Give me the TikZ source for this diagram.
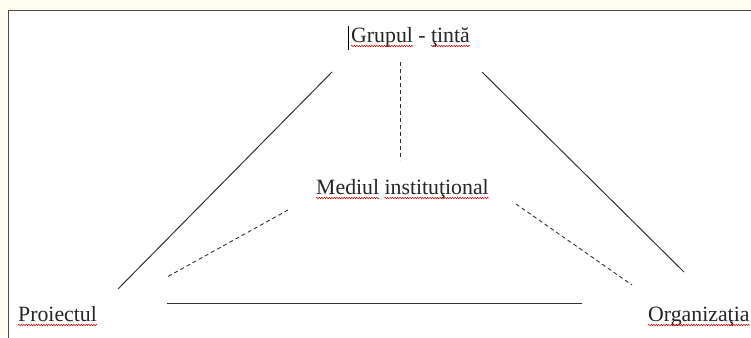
\documentclass[tikz,border=0pt]{standalone}
\usepackage{fontspec}
\setmainfont{Liberation Serif}
\usetikzlibrary{decorations.pathmorphing}
\begin{document}
\begin{tikzpicture}[x=1pt,y=-1pt,
  lbl/.style={inner sep=0pt,font=\fontsize{21.8}{24}\selectfont,text=black!85},
  solidline/.style={draw=black!80,line width=1pt},
  dashline/.style={draw=black!80,line width=0.9pt,dash pattern=on 4pt off 3pt},
  squig/.style={draw=red!80!black,line width=0.5pt,decorate,decoration={snake,amplitude=0.7pt,segment length=2.5pt}}]
\useasboundingbox (0,0) rectangle (751,337);
\fill[orange!8!yellow!6] (0,0) rectangle (751,337);
\filldraw[fill=white,draw=black!70,line width=0.9pt] (8,10) rectangle (760,345);
% labels (word by word)
\node[lbl,anchor=base west] (g1) at (351,42) {Grupul};
\node[lbl,anchor=base west] (g2) at ([xshift=5pt]g1.base east) {-};
\node[lbl,anchor=base west] (g3) at ([xshift=5pt]g2.base east) {ţintă};
\node[lbl,anchor=base west] (m1) at (316,194) {Mediul};
\node[lbl,anchor=base west] (m2) at ([xshift=5pt]m1.base east) {instituţional};
\node[lbl,anchor=base west] (p) at (18,321) {Proiectul};
\node[lbl,anchor=base west] (o) at (648,321) {Organizaţia};
\draw[black,line width=0.8pt] ([xshift=-3pt,yshift=1pt]g1.north west) -- ([xshift=-3pt,yshift=-3pt]g1.south west);
% coordinates
\coordinate (l1) at (332,72); \coordinate (l2) at (118,289);
\coordinate (r1) at (482,72); \coordinate (r2) at (684,272);
\coordinate (v1) at (400,62); \coordinate (v2) at (400,160);
\coordinate (dl1) at (288,210); \coordinate (dl2) at (167,277);
\coordinate (dr1) at (516,204); \coordinate (dr2) at (632,285);
\coordinate (b1) at (167,303); \coordinate (b2) at (582,303);
\draw[solidline] (l1) -- (l2);
\draw[solidline] (r1) -- (r2);
\draw[solidline] (b1) -- (b2);
\draw[dashline] (v1) -- (v2);
\draw[dashline] (dl1) -- (dl2);
\draw[dashline] (dr1) -- (dr2);
% spell-check underlines
\foreach \w in {g1,g3,m1,m2,p,o}
  \draw[squig] ([yshift=-4pt]\w.base west) -- ([yshift=-4pt]\w.base east);
\end{tikzpicture}
\end{document}
